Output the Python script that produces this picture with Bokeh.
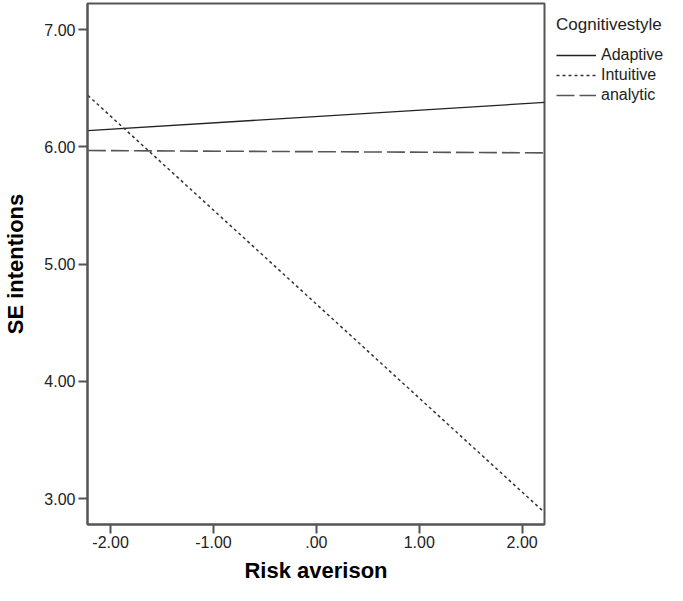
from bokeh.plotting import figure
from bokeh.models import Range1d, Legend, LegendItem, FixedTicker
from bokeh.embed import file_html
from bokeh.resources import INLINE

# Data
risk_x = [-2.22, 2.22]
adaptive = [6.14, 6.38]
intuitive = [6.44, 2.88]
analytic = [5.97, 5.95]
series_names = ["Adaptive", "Intuitive", "analytic"]
x_ticks = [-2, -1, 0, 1, 2]
x_tick_labels = ["-2.00", "-1.00", ".00", "1.00", "2.00"]
y_ticks = [3, 4, 5, 6, 7]
y_tick_labels = ["3.00", "4.00", "5.00", "6.00", "7.00"]

FONT = "Liberation Sans"
AXC = "#555555"

p = figure(frame_width=457, frame_height=521, output_backend="svg", toolbar_location=None,
           x_range=Range1d(-2.224, 2.217), y_range=Range1d(2.78, 7.224),
           min_border_left=85, min_border_top=3, min_border_right=133,
           min_border_bottom=61)
p.background_fill_color = "white"
p.border_fill_color = "white"
p.outline_line_color = AXC
p.outline_line_width = 2
p.xgrid.visible = False
p.ygrid.visible = False

r1 = p.line(risk_x, adaptive, line_color="#222222", line_width=1.3)
r2 = p.line(risk_x, intuitive, line_color="#333333", line_width=1.5, line_dash="3 3")
r3 = p.line(risk_x, analytic, line_color="#555555", line_width=1.6, line_dash="18 5")

for ax in (p.xaxis[0], p.yaxis[0]):
    ax.axis_line_color = AXC
    ax.axis_line_width = 2
    ax.major_tick_line_color = AXC
    ax.major_tick_line_width = 2
    ax.major_tick_out = 9
    ax.major_tick_in = 0
    ax.minor_tick_line_color = None
    ax.major_label_text_font = FONT
    ax.major_label_text_font_size = "16px"
    ax.major_label_text_color = "#222222"
    ax.axis_label_text_font = FONT
    ax.axis_label_text_font_size = "22px"
    ax.axis_label_text_font_style = "bold"
    ax.axis_label_text_color = "black"

p.xaxis.ticker = FixedTicker(ticks=x_ticks)
p.xaxis.major_label_overrides = {t: l for t, l in zip(x_ticks, x_tick_labels)}
p.yaxis.ticker = FixedTicker(ticks=y_ticks)
p.yaxis.major_label_overrides = {t: l for t, l in zip(y_ticks, y_tick_labels)}
p.xaxis.axis_label = "Risk averison"
p.yaxis.axis_label = "SE intentions"
p.xaxis.major_label_standoff = 2
p.yaxis.major_label_standoff = 3
p.xaxis.axis_label_standoff = 7
p.yaxis.axis_label_standoff = 13

legend = Legend(items=[LegendItem(label=n, renderers=[r]) for n, r in zip(series_names, [r1, r2, r3])],
                title="Cognitivestyle", location="top_left")
legend.title_text_font = FONT
legend.title_text_font_size = "17px"
legend.title_text_font_style = "normal"
legend.title_text_color = "#222222"
legend.title_standoff = 10
legend.label_text_font = FONT
legend.label_text_font_size = "16px"
legend.label_text_color = "#222222"
legend.glyph_width = 40
legend.glyph_height = 20
legend.label_height = 20
legend.spacing = 0
legend.label_standoff = 5
legend.margin = 0
legend.padding = 12
legend.border_line_alpha = 0
legend.background_fill_alpha = 0
p.add_layout(legend, "right")

open("out.html", "w").write(file_html(p, INLINE))
